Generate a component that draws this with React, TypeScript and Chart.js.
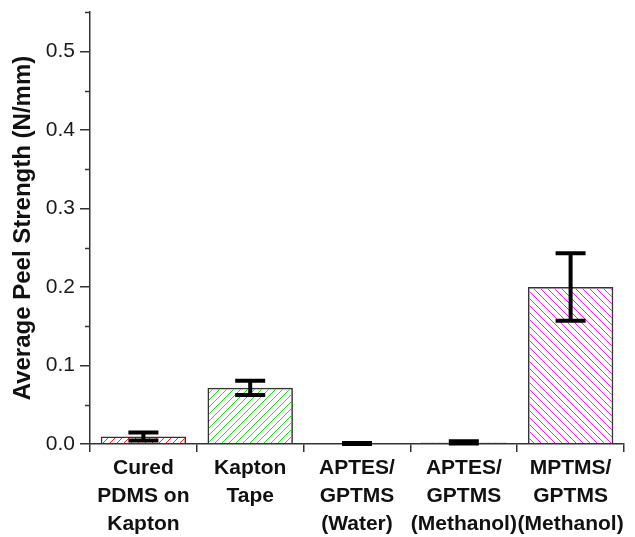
import React, { useEffect, useRef } from "react";
import { Chart, registerables } from "chart.js";

Chart.register(...registerables);

const categories: string[][] = [
  ["Cured", "PDMS on", "Kapton"],
  ["Kapton", "Tape"],
  ["APTES/", "GPTMS", "(Water)"],
  ["APTES/", "GPTMS", "(Methanol)"],
  ["MPTMS/", "GPTMS", "(Methanol)"],
];
const means: number[] = [0.0095, 0.0715, 0.0005, 0.002, 0.2];
const errors: number[] = [0.005, 0.009, 0.0008, 0.0015, 0.043];
const hatchColors: string[] = ["#ff2020", "#20e020", "#2020ff", "#009090", "#ff20ff"];
const hatchDirs: number[] = [1, 1, 1, 1, -1];
const yTicksMajor: number[] = [0, 0.1, 0.2, 0.3, 0.4, 0.5];
const yTicksMinor: number[] = [0.05, 0.15, 0.25, 0.35, 0.45, 0.55];
const yTitle = "Average Peel Strength (N/mm)";

function makeHatch(color: string, dir: number): CanvasPattern | string {
  const s = 7;
  const c = document.createElement("canvas");
  c.width = s;
  c.height = s;
  const g = c.getContext("2d");
  if (!g) return color;
  g.strokeStyle = color;
  g.lineWidth = 1;
  g.beginPath();
  if (dir === 1) {
    g.moveTo(0, s);
    g.lineTo(s, 0);
    g.moveTo(-1, 1);
    g.lineTo(1, -1);
    g.moveTo(s - 1, s + 1);
    g.lineTo(s + 1, s - 1);
  } else {
    g.moveTo(0, 0);
    g.lineTo(s, s);
    g.moveTo(s - 1, -1);
    g.lineTo(s + 1, 1);
    g.moveTo(-1, s - 1);
    g.lineTo(1, s + 1);
  }
  g.stroke();
  return g.createPattern(c, "repeat") || color;
}

const errorBarPlugin = {
  id: "errorBars",
  afterDatasetsDraw(chart: any) {
    const { ctx, scales } = chart;
    const xs = scales.x;
    const ys = scales.y;
    ctx.save();
    ctx.strokeStyle = "#000";
    ctx.lineWidth = 4;
    ctx.lineCap = "butt";
    means.forEach((m, i) => {
      const x = xs.getPixelForValue(i);
      const yt = ys.getPixelForValue(m + errors[i]);
      const yb = ys.getPixelForValue(Math.max(0, m - errors[i]));
      const hw = 15;
      ctx.beginPath();
      ctx.moveTo(x, yt);
      ctx.lineTo(x, yb);
      ctx.moveTo(x - hw, yt);
      ctx.lineTo(x + hw, yt);
      ctx.moveTo(x - hw, yb);
      ctx.lineTo(x + hw, yb);
      ctx.stroke();
    });
    ctx.restore();
  },
  afterDraw(chart: any) {
    const { ctx, scales } = chart;
    const ys = scales.y;
    const x0 = chart.chartArea.left;
    ctx.save();
    ctx.strokeStyle = "#333";
    ctx.lineWidth = 1.5;
    yTicksMinor.forEach((v) => {
      const y = Math.round(ys.getPixelForValue(v)) + 0.5;
      ctx.beginPath();
      ctx.moveTo(x0 - 5, y);
      ctx.lineTo(x0, y);
      ctx.stroke();
    });
    ctx.restore();
  },
};

const FONT = "'Liberation Sans', Arial, sans-serif";

export default function App() {
  const ref = useRef<HTMLCanvasElement | null>(null);
  useEffect(() => {
    const canvas = ref.current;
    if (!canvas) return;
    const fills = hatchColors.map((c, i) => makeHatch(c, hatchDirs[i]));
    const chart = new Chart(canvas, {
      type: "bar",
      data: {
        labels: categories,
        datasets: [
          {
            data: means,
            backgroundColor: fills as any,
            borderColor: "#333",
            borderWidth: 1.5,
            categoryPercentage: 1,
            barPercentage: 0.8,
          },
        ],
      },
      plugins: [errorBarPlugin],
      options: {
        responsive: false,
        animation: false,
        devicePixelRatio: 1,
        layout: { padding: { top: 12, right: 11, left: 0, bottom: 0 } },
        plugins: { legend: { display: false }, tooltip: { enabled: false } },
        scales: {
          x: {
            grid: { drawOnChartArea: false, drawTicks: true, tickLength: 8, tickColor: "#333", lineWidth: 1.5 },
            border: { color: "#333", width: 1.5 },
            ticks: {
              color: "#111",
              padding: 2,
              maxRotation: 0,
              autoSkip: false,
              font: { family: FONT, size: 21, weight: "bold", lineHeight: 1.333 },
            },
            afterFit(scale: any) {
              scale.height = 93;
              scale.paddingLeft = 0;
              scale.paddingRight = 0;
            },
          },
          y: {
            min: 0,
            max: 0.55,
            bounds: "data",
            grid: { drawOnChartArea: false, drawTicks: true, tickLength: 10, tickColor: "#333", lineWidth: 1.5 },
            border: { color: "#333", width: 1.5 },
            afterBuildTicks(scale: any) {
              scale.ticks = yTicksMajor.map((v) => ({ value: v }));
            },
            ticks: {
              color: "#1a1a1a",
              padding: 5,
              includeBounds: false,
              callback: (v: any) => Number(v).toFixed(1),
              font: { family: FONT, size: 21 },
            },
            title: {
              display: true,
              text: yTitle,
              color: "#111",
              padding: { top: 9, bottom: 0 },
              font: { family: FONT, size: 24, weight: "bold" },
            },
            afterFit(scale: any) {
              scale.width = 90;
              scale.paddingTop = 0;
              scale.paddingBottom = 0;
            },
          },
        },
      },
    });
    return () => chart.destroy();
  }, []);
  return (
    <div style={{ position: "fixed", left: 0, top: 0, width: 635, height: 537, background: "#fff" }}>
      <canvas ref={ref} width={635} height={537} style={{ display: "block" }} />
    </div>
  );
}
